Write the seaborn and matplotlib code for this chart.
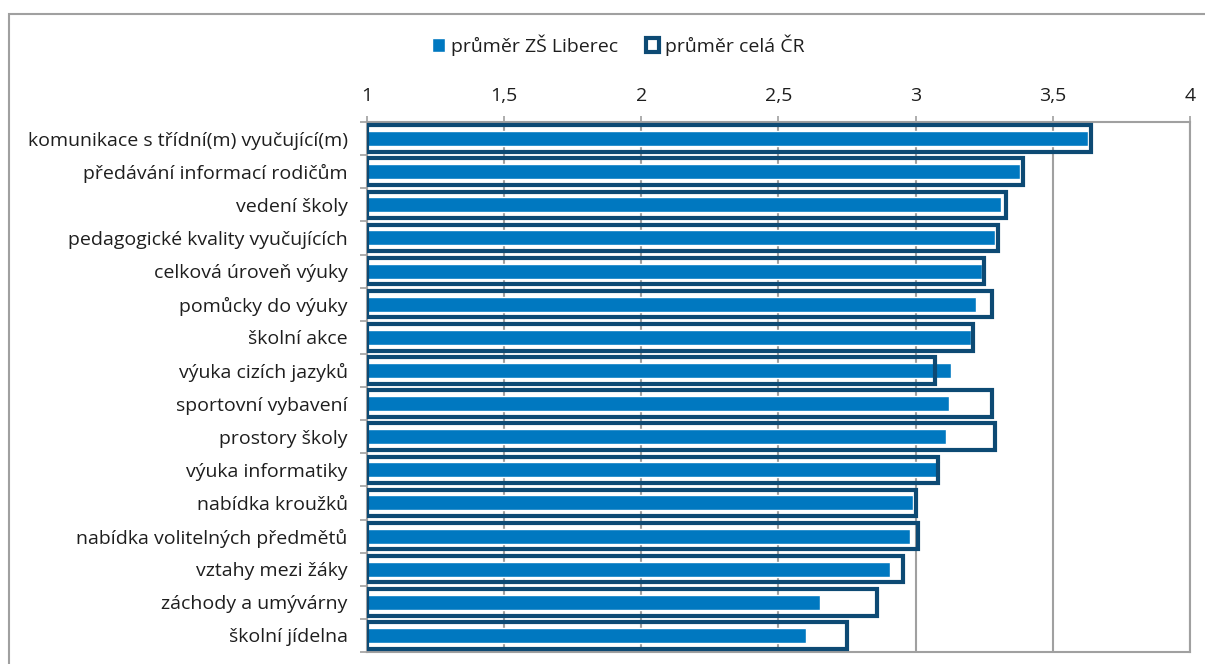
import pandas as pd
import matplotlib.pyplot as plt
import seaborn as sns
from matplotlib.patches import Rectangle, Patch
from matplotlib.ticker import FixedLocator

kategorie = ['komunikace s třídní(m) vyučující(m)', 'předávání informací rodičům', 'vedení školy',
             'pedagogické kvality vyučujících', 'celková úroveň výuky', 'pomůcky do výuky',
             'školní akce', 'výuka cizích jazyků', 'sportovní vybavení', 'prostory školy',
             'výuka informatiky', 'nabídka kroužků', 'nabídka volitelných předmětů',
             'vztahy mezi žáky', 'záchody a umývárny', 'školní jídelna']
liberec = [3.63, 3.38, 3.31, 3.29, 3.24, 3.22, 3.20, 3.13, 3.12, 3.11, 3.09, 2.99, 2.98, 2.905, 2.65, 2.60]
cr = [3.64, 3.39, 3.33, 3.30, 3.25, 3.28, 3.21, 3.07, 3.28, 3.29, 3.08, 3.00, 3.01, 2.955, 2.86, 2.75]
x_ticks = [1, 1.5, 2, 2.5, 3, 3.5, 4]
x_labels = ['1', '1,5', '2', '2,5', '3', '3,5', '4']

df = pd.DataFrame({'kategorie': kategorie, 'liberec': liberec, 'cr': cr})

sns.set_style('white')
plt.rcParams['font.family'] = ['Open Sans', 'DejaVu Sans']

fill_col = '#0078C0'
edge_col = '#0D4A74'
grid_col = '#A0A0A0'
text_col = '#1E1E1E'

fig = plt.figure(figsize=(12.05, 6.64), dpi=100)
ax = fig.add_axes([367 / 1205, 1 - 652 / 664, (1190 - 367) / 1205, (652 - 122) / 664])

# vyplněné sloupce ZŠ Liberec
sns.barplot(data=df, x='liberec', y='kategorie', orient='h', color=fill_col, saturation=1,
            width=0.45, edgecolor='white', linewidth=1, ax=ax, zorder=3)
# obrysové sloupce celá ČR
sns.barplot(data=df, x='cr', y='kategorie', orient='h', width=0.8, fill=False,
            edgecolor=edge_col, linewidth=3, ax=ax, zorder=4)

# sloupce začínají od 1
for p in ax.patches:
    w = p.get_width()
    p.set_x(1)
    p.set_width(w - 1)

ax.set_xlim(1, 4)
ax.set_ylim(len(kategorie) - 0.5, -0.5)
ax.set_xticks(x_ticks)
ax.set_xticklabels(x_labels)
ax.xaxis.tick_top()
ax.set_xlabel('')
ax.set_ylabel('')
ax.grid(axis='x', color=grid_col, linewidth=1.5, zorder=0)
ax.set_axisbelow(True)
for s in ax.spines.values():
    s.set_color(grid_col)
    s.set_linewidth(1.5)

ax.tick_params(axis='x', which='major', top=True, direction='inout', length=9, width=1.2,
               color=grid_col, pad=8, labelsize=14, labelcolor=text_col)
ax.tick_params(axis='y', which='major', left=False, length=0, pad=14, labelsize=14, labelcolor=text_col)
ax.yaxis.set_minor_locator(FixedLocator([i - 0.5 for i in range(len(kategorie) + 1)]))
ax.tick_params(axis='y', which='minor', left=True, direction='out', length=5, width=1.2, color=grid_col)

# legenda
handles = [Patch(facecolor=fill_col, edgecolor='white', label='průměr ZŠ Liberec'),
           Patch(facecolor='white', edgecolor=edge_col, linewidth=3, label='průměr celá ČR')]
leg = fig.legend(handles=handles, loc='center', bbox_to_anchor=(0.513, 1 - 45 / 664), ncol=2,
                 frameon=False, fontsize=14, handlelength=0.7, handleheight=0.7,
                 handletextpad=0.3, columnspacing=1.4)
for t in leg.get_texts():
    t.set_color(text_col)

# rámeček grafu
fig.patches.append(Rectangle((9 / 1205, -0.05), 1.1, 1 - 14 / 664 + 0.05, transform=fig.transFigure,
                             fill=False, edgecolor=grid_col, linewidth=1.5, zorder=0))

fig.savefig('out.png', dpi=100)
